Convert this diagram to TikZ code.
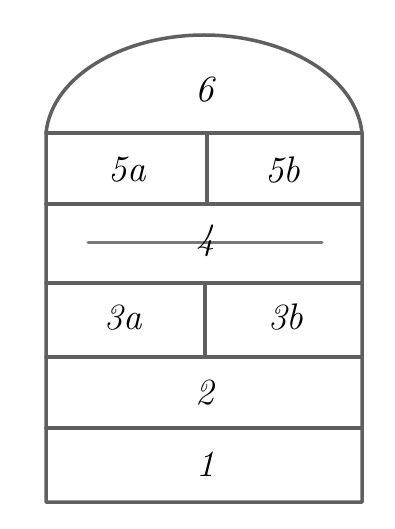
\documentclass[tikz,border=0pt]{standalone}
\begin{document}
\begin{tikzpicture}[x=1pt,y=-1pt,
  wall/.style={draw={rgb,255:red,95;green,95;blue,95}, line width=3.5pt, line cap=round, line join=round},
  thin/.style={draw={rgb,255:red,120;green,120;blue,120}, line width=3pt, line cap=round},
  lbl/.style={font=\fontsize{37}{37}\selectfont\itshape, inner sep=0pt}]
\useasboundingbox (0,0) rectangle (394,529);
% outer shape
\draw[wall] (46,133) .. controls (52,75) and (125,35) .. (204,35)
  .. controls (283,35) and (356,75) .. (362,133) -- (362,502) -- (46,502) -- cycle;
% horizontal dividers
\draw[wall] (46,133) -- (362,133);
\draw[wall] (46,204) -- (362,204);
\draw[wall] (46,283) -- (362,283);
\draw[wall] (46,357) -- (362,357);
\draw[wall] (46,428) -- (362,428);
% vertical dividers
\draw[wall] (207,133) -- (207,204);
\draw[wall] (205,283) -- (205,357);
% line in section 4
\draw[thin] (88,242) -- (322,242);
% labels
\node[lbl] (n6) at (205,90) {6};
\node[lbl] (n5a) at (127,170) {5a};
\node[lbl] (n5b) at (283,170) {5b};
\node[lbl] (n4) at (206,241) {4};
\node[lbl] (n3a) at (123,318) {3a};
\node[lbl] (n3b) at (286,317) {3b};
\node[lbl] (n2) at (205,393) {2};
\node[lbl] (n1) at (206,464) {1};
\end{tikzpicture}
\end{document}
